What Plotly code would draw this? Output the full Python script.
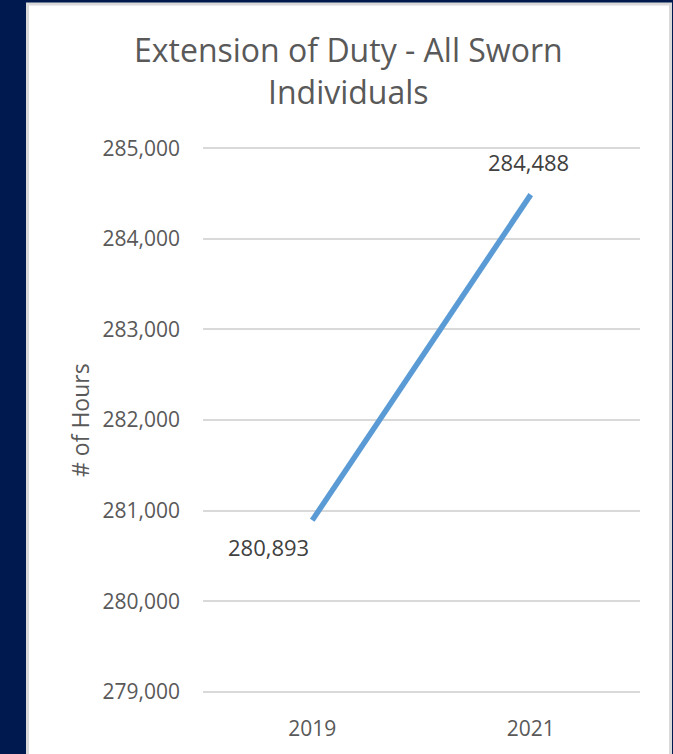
import plotly.graph_objects as go

years = ["2019", "2021"]
hours = [280893, 284488]
y_ticks = [279000, 280000, 281000, 282000, 283000, 284000, 285000]
y_tick_labels = ["279,000", "280,000", "281,000", "282,000", "283,000", "284,000", "285,000"]
data_labels = ["280,893", "284,488"]

W, H = 673, 754
L, R, T, B = 203, 33, 146, 58
pw, ph = W - L - R, H - T - B

def px_x(x):
    return (x - L) / pw

def px_y(y):
    return (H - B - y) / ph

text_color = "#595959"
font_family = "Open Sans, Calibri, sans-serif"

fig = go.Figure()
fig.add_trace(go.Scatter(
    x=years, y=hours, mode="lines",
    line=dict(color="#5B9BD5", width=5.5),
    hoverinfo="skip", showlegend=False,
))

# data labels (category positions by index)
fig.add_annotation(x=0, y=hours[0], xref="x", yref="y", text=data_labels[0],
                   showarrow=False, xshift=-44, yshift=-27, xanchor="center", yanchor="middle",
                   font=dict(size=22, color="#404040", family=font_family))
fig.add_annotation(x=1, y=hours[1], xref="x", yref="y", text=data_labels[1],
                   showarrow=False, xshift=-2, yshift=33, xanchor="center", yanchor="middle",
                   font=dict(size=22, color="#404040", family=font_family))

# y-axis title
fig.add_annotation(x=px_x(80), y=0.5, xref="paper", yref="paper", text="# of Hours",
                   textangle=-90, showarrow=False, xanchor="center", yanchor="middle",
                   font=dict(size=23, color=text_color, family=font_family))

# chart title
fig.add_annotation(x=px_x(348), y=px_y(70), xref="paper", yref="paper",
                   text="Extension of Duty - All Sworn<br>Individuals",
                   showarrow=False, align="center", xanchor="center", yanchor="middle",
                   font=dict(size=32, color=text_color, family=font_family))

# white panel
fig.add_shape(type="rect", xref="paper", yref="paper",
              x0=px_x(27.5), x1=px_x(670.5), y0=px_y(760), y1=px_y(3.5),
              fillcolor="white", line=dict(color="#D9D9D9", width=3), layer="below")

fig.update_layout(
    width=W, height=H,
    margin=dict(l=L, r=R, t=T, b=B, pad=0),
    paper_bgcolor="#001A4F",
    plot_bgcolor="rgba(0,0,0,0)",
    font=dict(family=font_family, color=text_color),
    xaxis=dict(type="category", range=[-0.5, 1.5], showgrid=False, zeroline=False, showline=False,
               ticks="", ticklabelstandoff=20,
               tickfont=dict(size=21, color=text_color, family=font_family),
               fixedrange=True),
    yaxis=dict(range=[278975, 285025], tickvals=y_ticks, ticktext=y_tick_labels,
               showgrid=True, gridcolor="#D9D9D9", gridwidth=2,
               zeroline=False, showline=False, ticks="", ticklabelstandoff=22,
               tickfont=dict(size=21, color=text_color, family=font_family),
               fixedrange=True),
)

fig.write_html("out.html", config={"displayModeBar": False},
               post_script="document.body.style.margin='0';document.body.style.overflow='hidden';")
